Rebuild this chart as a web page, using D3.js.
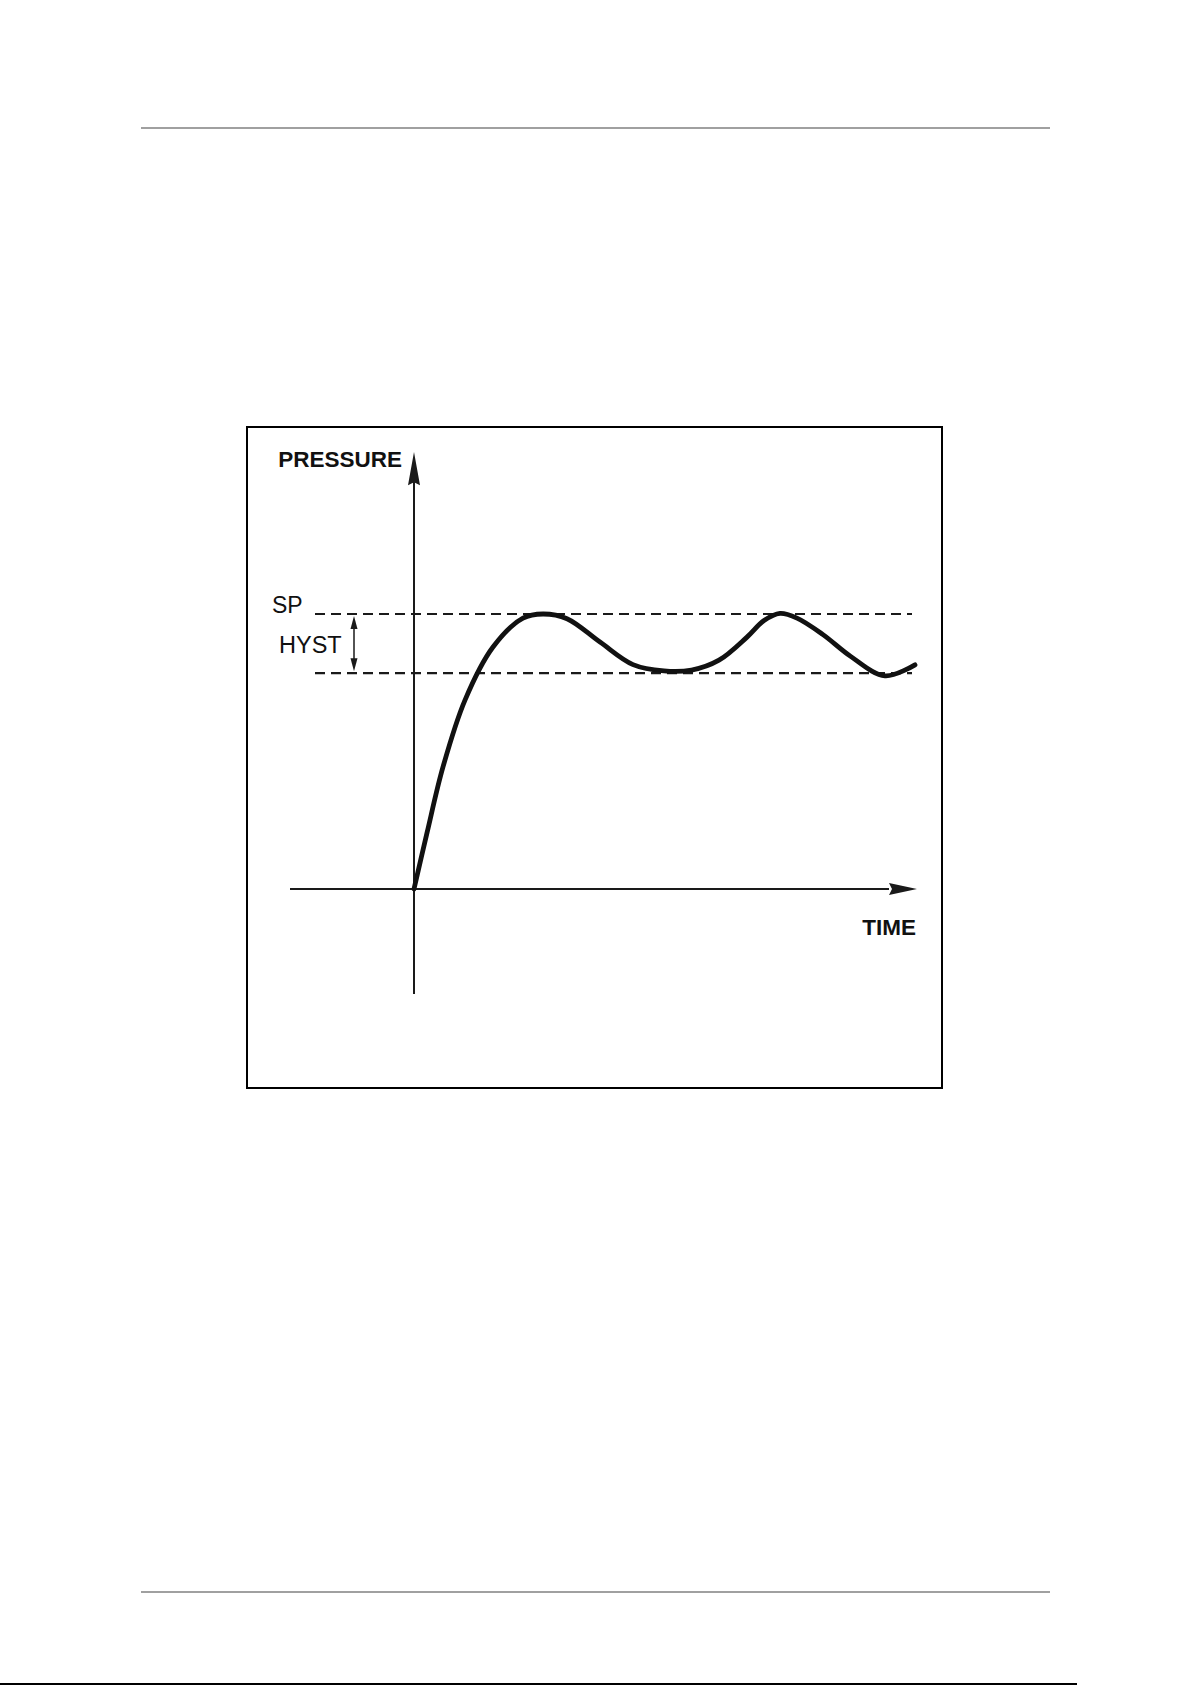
<!DOCTYPE html>
<html>
<head>
<meta charset="utf-8">
<script src="https://cdn.jsdelivr.net/npm/d3@7"></script>
<style>
  html, body { margin: 0; padding: 0; background: #fff; }
  svg { display: block; }
  text { font-family: "Liberation Sans", Arial, sans-serif; fill: #111; }
</style>
</head>
<body>
<script>
// ---- data (time in arbitrary units, pressure in % of set point) ----
const timeValues = [0, 2.6, 5.8, 10.2, 15.8, 21.8, 25.8, 30.6, 37.2, 43.8, 50, 55.5, 61, 66.6, 70, 73.2, 76.6, 81.8, 87.4, 94.2, 100.2];
const pressureValues = [0, 20.4, 44.4, 68.7, 88, 98.5, 100, 98.3, 89.8, 81.6, 79.3, 79.6, 83.2, 91.6, 97.6, 100.2, 98.5, 92.5, 84.5, 77.5, 81.5];
const setPoint = 100;
const hysteresisLow = 78.5;
const axisLabels = ["PRESSURE", "TIME"];
const levelLabels = ["SP", "HYST"];

const W = 1192, H = 1685;
const svg = d3.select("body").append("svg").attr("width", W).attr("height", H);
svg.append("rect").attr("width", W).attr("height", H).attr("fill", "#fff");

// page rules
svg.append("line").attr("x1", 141).attr("x2", 1050).attr("y1", 128).attr("y2", 128)
  .attr("stroke", "#808080").attr("stroke-width", 1.6);
svg.append("line").attr("x1", 141).attr("x2", 1050).attr("y1", 1592).attr("y2", 1592)
  .attr("stroke", "#808080").attr("stroke-width", 1.6);
svg.append("line").attr("x1", 0).attr("x2", 1077).attr("y1", 1684).attr("y2", 1684)
  .attr("stroke", "#000").attr("stroke-width", 2);

// frame
svg.append("rect").attr("x", 247).attr("y", 427).attr("width", 695).attr("height", 661)
  .attr("fill", "none").attr("stroke", "#000").attr("stroke-width", 2);

// scales
const x = d3.scaleLinear().domain([0, 100]).range([414, 914]);
const y = d3.scaleLinear().domain([0, 100]).range([889, 614]);

const g = svg.append("g");

// dashed levels
[setPoint, hysteresisLow].forEach(v => {
  g.append("line")
    .attr("x1", x(-19.8)).attr("x2", x(99.6))
    .attr("y1", y(v)).attr("y2", y(v))
    .attr("stroke", "#1a1a1a").attr("stroke-width", 2.2)
    .attr("stroke-dasharray", "10,6");
});

// axes
const axisColor = "#1a1a1a";
// x axis
g.append("line").attr("x1", x(-24.8)).attr("x2", x(95)).attr("y1", y(0)).attr("y2", y(0))
  .attr("stroke", axisColor).attr("stroke-width", 2);
{
  const tip = x(100.6), base = x(95), yy = y(0);
  g.append("path").attr("d", `M${tip},${yy} L${base},${yy - 6} L${base + 3},${yy} L${base},${yy + 6} Z`)
    .attr("fill", axisColor);
}
// y axis
g.append("line").attr("x1", x(0)).attr("x2", x(0)).attr("y1", y(-38.2)).attr("y2", y(150))
  .attr("stroke", axisColor).attr("stroke-width", 2);
{
  const tip = y(158.9), base = y(146.8), xx = x(0);
  g.append("path").attr("d", `M${xx},${tip} L${xx - 6},${base} L${xx},${base - 3} L${xx + 6},${base} Z`)
    .attr("fill", axisColor);
}

// hysteresis double arrow
{
  const xx = x(-12), top = y(setPoint) + 2, bot = y(hysteresisLow) - 2;
  g.append("line").attr("x1", xx).attr("x2", xx).attr("y1", top + 8).attr("y2", bot - 8)
    .attr("stroke", axisColor).attr("stroke-width", 1.5);
  g.append("path").attr("d", `M${xx},${top} L${xx - 3.5},${top + 13} L${xx + 3.5},${top + 13} Z`).attr("fill", axisColor);
  g.append("path").attr("d", `M${xx},${bot} L${xx - 3.5},${bot - 13} L${xx + 3.5},${bot - 13} Z`).attr("fill", axisColor);
}

// curve
const pts = timeValues.map((t, i) => [t, pressureValues[i]]);
const line = d3.line().x(d => x(d[0])).y(d => y(d[1])).curve(d3.curveCatmullRom.alpha(0.5));
g.append("path").attr("d", line(pts)).attr("fill", "none")
  .attr("stroke", "#111").attr("stroke-width", 4.8).attr("stroke-linecap", "round");

// labels
g.append("text").attr("x", 402).attr("y", 467).attr("text-anchor", "end")
  .attr("font-size", 22.5).attr("font-weight", "bold").text(axisLabels[0]);
g.append("text").attr("x", 916).attr("y", 935).attr("text-anchor", "end")
  .attr("font-size", 22.5).attr("font-weight", "bold").text(axisLabels[1]);
g.append("text").attr("x", 272).attr("y", 613)
  .attr("font-size", 23).text(levelLabels[0]);
g.append("text").attr("x", 279).attr("y", 653)
  .attr("font-size", 23.5).text(levelLabels[1]);
</script>
</body>
</html>
